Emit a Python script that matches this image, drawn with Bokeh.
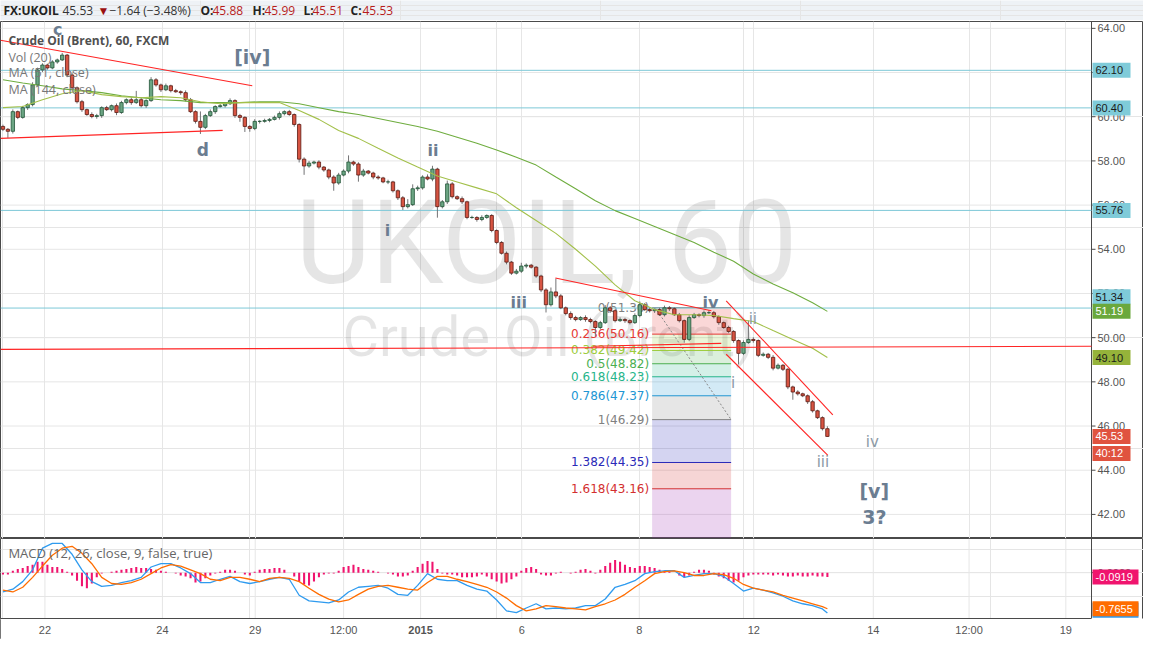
from bokeh.plotting import figure
from bokeh.layouts import column
from bokeh.models import ColumnDataSource, FixedTicker, Grid, Range1d
from bokeh.core.properties import value
from bokeh.embed import file_html
from bokeh.resources import INLINE

# ---------------- data (2-hour candles) ----------------
first_open = 59.56
closes = [
    59.43, 59.34, 60.23, 59.97, 60.41, 60.55, 61.44, 62.12, 62.34, 62.21,
    62.48, 62.57, 62.79, 61.89, 61.31, 60.68, 60.32, 60.10, 60.01, 60.05,
    60.41, 60.32, 60.50, 60.19, 60.64, 60.77, 60.64, 60.77, 60.50, 60.73,
    61.67, 61.44, 61.22, 61.40, 61.18, 61.13, 61.09, 60.77, 60.23, 59.79,
    59.52, 60.05, 60.23, 60.46, 60.50, 60.59, 60.73, 60.05, 59.97, 59.56,
    59.47, 59.79, 59.79, 59.83, 59.88, 59.97, 60.14, 60.23, 60.10, 59.65,
    58.08, 57.77, 57.90, 57.95, 57.72, 57.59, 57.27, 57.00, 57.36, 57.54,
    57.95, 57.86, 57.36, 57.54, 57.45, 57.27, 57.23, 57.05, 57.05, 56.65,
    56.33, 55.93, 56.02, 56.74, 56.78, 57.27, 57.18, 57.63, 55.93, 56.15,
    56.96, 56.38, 56.29, 56.15, 55.44, 55.44, 55.35, 55.44, 55.53, 54.85,
    54.31, 53.82, 53.42, 52.92, 53.01, 53.24, 53.28, 53.19, 52.79, 52.16,
    51.49, 52.07, 51.89, 51.35, 51.09, 50.91, 50.82, 50.91, 50.82, 50.73,
    50.46, 50.68, 51.35, 51.22, 50.77, 50.82, 50.77, 50.68, 51.00, 51.49,
    51.27, 51.22, 51.27, 51.04, 51.35, 51.31, 51.04, 50.77, 49.92, 50.91,
    51.04, 51.00, 51.13, 51.13, 50.95, 50.68, 50.46, 50.28, 49.87, 49.29,
    49.78, 49.92, 49.87, 49.20, 49.25, 49.11, 48.62, 48.75, 48.57, 47.77,
    47.54, 47.46, 47.37, 47.10, 46.69, 46.38, 45.88, 45.53,
]
# wick lengths beyond the body, in cents
up_wick = [
    8, 6, 10, 5, 8, 6, 12, 10, 8, 6,
    8, 6, 10, 5, 10, 6, 8, 5, 10, 8,
    6, 8, 5, 10, 8, 6, 10, 40, 8, 6,
    12, 8, 6, 10, 5, 8, 6, 10, 8, 6,
    45, 8, 10, 6, 8, 5, 10, 6, 8, 5,
    6, 10, 5, 8, 6, 8, 10, 6, 8, 5,
    5, 8, 10, 6, 8, 5, 6, 8, 10, 8,
    30, 6, 8, 10, 5, 6, 8, 5, 10, 5,
    6, 8, 25, 20, 10, 8, 12, 15, 6, 8,
    15, 8, 6, 10, 5, 8, 6, 10, 5, 6,
    5, 6, 8, 5, 10, 15, 8, 6, 5, 6,
    8, 20, 60, 8, 6, 10, 8, 6, 10, 8,
    6, 8, 12, 8, 6, 10, 8, 6, 10, 15,
    8, 10, 6, 8, 10, 8, 6, 8, 5, 10,
    8, 6, 10, 12, 8, 6, 5, 8, 6, 5,
    10, 85, 10, 5, 8, 6, 10, 8, 6, 5,
    6, 8, 5, 6, 8, 5, 6, 11,
]
dn_wick = [
    8, 30, 10, 8, 6, 10, 8, 6, 10, 8,
    6, 8, 5, 10, 6, 8, 10, 6, 8, 10,
    10, 6, 8, 12, 6, 8, 10, 6, 8, 10,
    6, 8, 10, 6, 8, 5, 10, 8, 6, 10,
    30, 8, 6, 10, 5, 8, 6, 10, 20, 25,
    15, 8, 10, 6, 8, 5, 10, 8, 6, 10,
    15, 40, 8, 6, 10, 8, 10, 35, 8, 6,
    10, 8, 30, 8, 6, 10, 8, 6, 10, 8,
    10, 15, 8, 6, 10, 8, 6, 10, 50, 8,
    10, 8, 6, 10, 8, 6, 10, 8, 6, 8,
    8, 6, 10, 8, 6, 8, 10, 6, 8, 10,
    35, 8, 10, 6, 8, 10, 8, 6, 10, 8,
    40, 8, 6, 10, 8, 6, 10, 8, 6, 8,
    6, 8, 10, 6, 8, 10, 6, 8, 15, 8,
    6, 8, 10, 6, 8, 10, 6, 8, 10, 50,
    8, 6, 10, 8, 6, 8, 10, 6, 8, 10,
    35, 8, 6, 10, 8, 6, 8, 2,
]

# moving averages, sampled every 4th candle plus the last one
ma_idx = list(range(0, 168, 4)) + [167]
ma144 = [61.67, 61.53, 61.40, 61.26, 61.18, 61.09, 60.95, 60.86, 60.77, 60.73,
         60.64, 60.64, 60.64, 60.68, 60.68, 60.59, 60.41, 60.23, 60.10, 59.92,
         59.74, 59.56, 59.34, 59.07, 58.80, 58.49, 58.17, 57.81, 57.27, 56.74,
         56.20, 55.75, 55.39, 55.03, 54.67, 54.31, 53.87, 53.46, 52.88, 52.43,
         52.03, 51.58, 51.19]
ma51 = [60.41, 60.46, 60.77, 61.04, 61.18, 61.00, 60.91, 60.86, 60.91, 60.86,
        60.68, 60.59, 60.64, 60.64, 60.64, 60.28, 59.88, 59.38, 59.02, 58.57,
        58.13, 57.72, 57.32, 57.05, 56.78, 56.51, 55.88, 55.30, 54.72, 54.00,
        53.24, 52.39, 51.67, 51.27, 51.04, 51.04, 51.00, 50.86, 50.73, 50.32,
        49.92, 49.52, 49.10]

# MACD (12, 26, 9): lines sampled every 2nd candle plus the last one
macd_idx = list(range(0, 168, 2)) + [167]
macd_line = [-0.41, -0.35, -0.19, 0.06, 0.52, 0.62, 0.62, 0.39, 0.06, -0.19,
             -0.29, -0.27, -0.21, -0.17, -0.10, 0.12, 0.19, 0.19, 0.10, -0.02,
             -0.21, -0.21, -0.14, -0.08, -0.19, -0.23, -0.19, -0.14, -0.10, -0.14,
             -0.48, -0.60, -0.62, -0.64, -0.58, -0.41, -0.31, -0.29, -0.27, -0.33,
             -0.46, -0.48, -0.27, -0.02, -0.14, -0.17, -0.17, -0.27, -0.35, -0.39,
             -0.58, -0.81, -0.85, -0.75, -0.66, -0.77, -0.75, -0.77, -0.75, -0.70,
             -0.70, -0.56, -0.31, -0.25, -0.17, -0.02, 0.02, 0.04, 0.04, -0.10,
             -0.06, -0.02, -0.02, -0.08, -0.23, -0.39, -0.33, -0.37, -0.43, -0.50,
             -0.60, -0.66, -0.70, -0.77, -0.857]
signal_line = [-0.37, -0.41, -0.31, -0.10, 0.14, 0.37, 0.52, 0.56, 0.41, 0.19,
               -0.10, -0.23, -0.25, -0.21, -0.14, -0.02, 0.10, 0.17, 0.14, 0.06,
               -0.02, -0.14, -0.17, -0.10, -0.10, -0.14, -0.19, -0.12, -0.10, -0.12,
               -0.19, -0.33, -0.46, -0.56, -0.62, -0.58, -0.46, -0.35, -0.29, -0.27,
               -0.31, -0.35, -0.37, -0.21, -0.08, -0.08, -0.14, -0.19, -0.25, -0.31,
               -0.41, -0.54, -0.70, -0.81, -0.77, -0.70, -0.72, -0.75, -0.77, -0.79,
               -0.72, -0.66, -0.58, -0.46, -0.31, -0.17, -0.02, 0.02, 0.04, 0.00,
               -0.06, -0.06, -0.02, -0.04, -0.12, -0.25, -0.33, -0.37, -0.41, -0.48,
               -0.54, -0.60, -0.66, -0.72, -0.7655]
hist = [
    -0.04, -0.04, 0.04, 0.08, 0.10, 0.14, 0.17, 0.23, 0.23, 0.17,
    0.12, 0.12, 0.08, 0.02, -0.06, -0.17, -0.29, -0.33, -0.23, -0.10,
    -0.02, 0.00, 0.02, 0.04, 0.06, 0.08, 0.10, 0.12, 0.10, 0.10,
    0.08, 0.06, 0.04, 0.02, 0.00, -0.02, -0.06, -0.08, -0.12, -0.21,
    -0.19, -0.12, -0.06, -0.02, 0.02, 0.06, 0.06, 0.04, 0.00, -0.04,
    -0.06, 0.02, 0.06, 0.08, 0.08, 0.10, 0.10, 0.06, 0.00, -0.08,
    -0.19, -0.25, -0.27, -0.19, -0.10, -0.04, -0.02, -0.02, 0.04, 0.12,
    0.14, 0.17, 0.12, 0.08, 0.06, 0.04, 0.02, 0.00, -0.02, -0.04,
    -0.08, -0.08, -0.06, 0.04, 0.12, 0.19, 0.25, 0.23, 0.08, -0.02,
    -0.04, -0.04, -0.06, -0.10, -0.10, -0.10, -0.08, -0.04, -0.08, -0.14,
    -0.19, -0.23, -0.21, -0.14, -0.08, 0.04, 0.10, 0.12, 0.08, -0.04,
    -0.06, -0.06, -0.02, 0.02, 0.00, -0.02, 0.02, 0.06, 0.08, 0.04,
    -0.02, 0.06, 0.14, 0.21, 0.27, 0.23, 0.17, 0.12, 0.10, 0.14,
    0.14, 0.12, 0.10, 0.06, 0.04, 0.02, 0.00, -0.06, -0.10, -0.06,
    0.02, 0.06, 0.06, 0.04, -0.04, -0.08, -0.12, -0.17, -0.21, -0.17,
    -0.10, -0.06, -0.04, -0.04, -0.04, -0.04, -0.06, -0.04, -0.06, -0.08,
    -0.08, -0.06, -0.08, -0.08, -0.06, -0.08, -0.08, -0.0919,
]

# time axis (bar positions where a labelled date starts)
tick_pos = [8.5, 32.3, 51.1, 69.0, 84.6, 105.1, 128.9, 152.1, 176.3, 195.7, 215.3]
tick_labels = ["22", "24", "29", "12:00", "2015", "6", "8", "12", "14", "12:00", "19"]
tick_bold = ["normal", "normal", "normal", "normal", "bold", "normal",
             "normal", "normal", "normal", "normal", "normal"]
price_ticks = [42, 44, 46, 48, 50, 52, 54, 56, 58, 60, 62, 64]
macd_ticks = [0.0]

# horizontal levels
hlevels = [62.10, 60.40, 55.76, 51.34]

# price-scale tags: (position, text, background, text colour); an empty text is a hidden tag
price_tags = [(62.10, "62.10", "#7fcbd9", "#1a1a1a"), (60.40, "60.40", "#7fcbd9", "#1a1a1a"),
              (55.76, "55.76", "#7fcbd9", "#1a1a1a"), (51.85, "51.34", "#7fcbd9", "#1a1a1a"),
              (51.19, "51.19", "#6aa83c", "#ffffff"), (49.10, "49.10", "#95b33a", "#1a1a1a"),
              (45.53, "45.53", "#e0533f", "#ffffff"), (44.76, "40:12", "#e0533f", "#ffffff")]
macd_tags = [(-0.80, "", "#2f9bef", "#ffffff"), (-0.0919, "-0.0919", "#f0146e", "#ffffff"),
             (-0.7655, "-0.7655", "#ff6d00", "#ffffff")]

# fibonacci retracement
fib_levels = ["0", "0.236", "0.382", "0.5", "0.618", "0.786", "1", "1.382", "1.618", "2.618"]
fib_prices = [51.36, 50.16, 49.42, 48.82, 48.23, 47.37, 46.29, 44.35, 43.16, 38.09]
fib_colors = ["#808080", "#e53935", "#9ccc3c", "#4caf50", "#26b58a", "#2196d3",
              "#808080", "#2a2ab8", "#d32f2f", "#9c27b0"]
fib_x0, fib_x1 = 131.5, 147.5

# drawn trend lines (bar index, price)
trend_x0 = [-0.5, -0.5, 111.9, 119.5, 146.5, 146.5, -0.5]
trend_y0 = [63.46, 59.02, 52.70, 49.61, 51.67, 49.25, 49.47]
trend_x1 = [50.5, 44.5, 143.5, 145.5, 168.1, 167.1, 220.5]
trend_y1 = [61.40, 59.38, 51.22, 49.74, 46.51, 44.67, 49.61]

# Elliott wave labels
wave_main = [("[iv]", 50.5, 62.70, "19px"), ("c", 11.1, 63.95, "16px"),
             ("d", 40.5, 58.48, "17px"), ("i", 77.9, 54.85, "16px"),
             ("ii", 87.1, 58.48, "16px"), ("iii", 104.5, 51.58, "16px"),
             ("iv", 143.3, 51.58, "16px"), ("[v]", 176.5, 43.06, "19px"),
             ("3?", 176.5, 41.89, "19px")]
wave_sub = [("i", 147.9, 47.95), ("ii", 151.9, 50.86), ("iii", 166.1, 44.36), ("iv", 176.1, 45.30)]

# ---------------- build ----------------
n = len(closes)
idx = list(range(n))
opens = [first_open] + closes[:-1]
highs = [max(o, c) + u / 100 for o, c, u in zip(opens, closes, up_wick)]
lows = [min(o, c) - d / 100 for o, c, d in zip(opens, closes, dn_wick)]
is_up = [c >= o for o, c in zip(opens, closes)]
src = ColumnDataSource(dict(
    x=idx, o=opens, c=closes, h=highs, l=lows,
    fill=["#6ba583" if u else "#d75442" for u in is_up],
    edge=["#225437" if u else "#5b1a13" for u in is_up],
))

W = 1143
DATA_W = 1091                    # pixels of the time area, the rest is the price scale
X0, X1 = -0.5, 220.5             # time area in bar units
PPX = DATA_W / (X1 - X0)         # pixels per bar
XE = X1 + (W - DATA_W) / PPX     # right edge of the price scale
Y0, Y1 = 40.91, 64.31
GRID = "#e6e6e6"
AXC = "#4a4a4a"
AX_FONT = "Liberation Sans"

# header strip
hdr = figure(frame_width=W, frame_height=20, x_range=Range1d(0, W), y_range=Range1d(0, 20),
             toolbar_location=None, output_backend="svg", min_border=0,
             x_axis_location=None, y_axis_location=None)
hdr.outline_line_color = None
hdr.background_fill_color = "#eef2f6"
hdr.border_fill_color = "#eef2f6"
hdr_parts = [(3, "FX:UKOIL", "#222222", "bold"), (62, "45.53", "#333333", "normal"),
             (97, "▼", "#9b1010", "normal"), (109, "−1.64 (−3.48%)", "#333333", "normal"),
             (200, "O:", "#222222", "bold"), (212, "45.88", "#b71c1c", "normal"),
             (252, "H:", "#222222", "bold"), (264, "45.99", "#b71c1c", "normal"),
             (303, "L:", "#222222", "bold"), (312, "45.51", "#b71c1c", "normal"),
             (350, "C:", "#222222", "bold"), (362, "45.53", "#b71c1c", "normal")]
for hx, ht, hc, hs in hdr_parts:
    hdr.text(x=[hx], y=[10], text=[ht], text_color=hc, text_font=value("Open Sans"),
             text_font_style=hs, text_font_size="12px", text_baseline="middle", text_align="left")


def price_scale(fig, ticks, fmt, lo, hi):
    """Right-hand price scale drawn inside the frame, so that the value tags can cover it."""
    k = len(ticks)
    fig.segment(x0=[X0] * k, x1=[X1] * k, y0=ticks, y1=ticks, line_color=GRID, line_width=1)
    fig.segment(x0=[X1], x1=[X1], y0=[lo], y1=[hi], line_color=AXC, line_width=1)
    fig.segment(x0=[X1] * k, x1=[X1 + 4 / PPX] * k, y0=ticks, y1=ticks, line_color=AXC, line_width=1)
    fig.text(x=[X1 + 6 / PPX] * k, y=ticks, text=[fmt.format(t) for t in ticks],
             text_font=value(AX_FONT), text_font_size="11px", text_color="#555555",
             text_align="left", text_baseline="middle")


def draw_tags(fig, tags, tag_w):
    for ty, tt, bg, fg in tags:
        fig.rect(x=[X1 + (tag_w / 2 + 1) / PPX], y=[ty], width=tag_w, height=15,
                 width_units="screen", height_units="screen", fill_color=bg, line_color=None)
        if tt:
            fig.text(x=[X1 + 4 / PPX], y=[ty], text=[tt], text_color=fg, text_font=value(AX_FONT),
                     text_font_size="11px", text_align="left", text_baseline="middle")


# main price pane
p = figure(frame_width=W, frame_height=517, x_range=Range1d(X0, XE), y_range=Range1d(Y0, Y1),
           toolbar_location=None, output_backend="svg", x_axis_location=None, y_axis_location=None,
           min_border=0, min_border_top=1)
p.outline_line_color = AXC
p.background_fill_color = "white"
p.border_fill_color = "white"
p.add_layout(Grid(dimension=0, ticker=FixedTicker(ticks=tick_pos), grid_line_color=GRID))
price_scale(p, price_ticks, "{:.2f}", Y0, Y1)

# watermark
p.text(x=[110.1], y=[54.27], text=["UKOIL, 60"], text_font=value("Roboto"), text_font_size="116px",
       text_color="#000000", text_alpha=0.1, text_align="center", text_baseline="middle")
p.text(x=[110.5], y=[50.05], text=["Crude Oil (Brent)"], text_font=value("Roboto"), text_font_size="56px",
       text_color="#000000", text_alpha=0.1, text_align="center", text_baseline="middle")

# fib bands, lines and labels
p.quad(left=[fib_x0] * 9, right=[fib_x1] * 9, top=fib_prices[:-1], bottom=fib_prices[1:],
       fill_color=fib_colors[1:], fill_alpha=0.2, line_color=None)
p.segment(x0=[fib_x0] * 9, x1=[fib_x1] * 9, y0=fib_prices[:-1], y1=fib_prices[:-1],
          line_color=fib_colors[:-1], line_width=1)
p.text(x=[fib_x0] * 9, y=fib_prices[:-1],
       text=[f"{l}({v:.2f})" for l, v in zip(fib_levels[:-1], fib_prices[:-1])],
       text_color=fib_colors[:-1], text_font=value("DejaVu Sans"), text_font_size="12px",
       text_align="right", text_baseline="middle", x_offset=-3)
p.segment(x0=[fib_x0 + 0.6], y0=[fib_prices[0]], x1=[fib_x1], y1=[fib_prices[6]],
          line_color="#888888", line_dash="2 2", line_width=1)

# horizontal levels
p.segment(x0=[X0] * len(hlevels), x1=[X1] * len(hlevels), y0=hlevels, y1=hlevels,
          line_color="#7dc8d7", line_width=1)

# candles
p.segment(x0="x", y0="h", x1="x", y1="l", source=src, line_color="#737375", line_width=1)
p.vbar(x="x", width=0.68, top="o", bottom="c", source=src, fill_color="fill", line_color="edge", line_width=0.8)

# moving averages
p.line(ma_idx, ma144, line_color="#6fad3f", line_width=1.1)
p.line(ma_idx, ma51, line_color="#a3c04a", line_width=1.1)

# trend lines
p.segment(x0=trend_x0, y0=trend_y0, x1=trend_x1, y1=trend_y1, line_color="#ff2424", line_width=1.1)

# wave labels
for t, wx, wy, fs in wave_main:
    p.text(x=[wx], y=[wy], text=[t], text_font=value("DejaVu Sans"), text_font_style="bold",
           text_font_size=fs, text_color="#6b7d91", text_align="center", text_baseline="middle")
for t, wx, wy in wave_sub:
    p.text(x=[wx], y=[wy], text=[t], text_font=value("DejaVu Sans"), text_font_size="15px",
           text_color="#8d9aa6", text_align="center", text_baseline="middle")

# legend texts
p.text(x=[1.1], y=[63.46], text=["Crude Oil (Brent), 60, FXCM"], text_font=value("Open Sans"),
       text_font_style="bold", text_font_size="12px", text_color="#505050", text_baseline="middle")
p.text(x=[1.1, 1.1, 1.1], y=[62.70, 61.98, 61.22], text=["Vol (20)", "MA (51, close)", "MA (144, close)"],
       text_font=value("Open Sans"), text_font_size="12.5px", text_color="#777777", text_baseline="middle")

draw_tags(p, price_tags, 38)

# MACD pane, with the time-label strip inside the same frame
M0, M1 = -0.973, 0.725
PPY = 80 / (M1 - M0)             # pixels per MACD unit
MB = M0 - 21 / PPY               # bottom of the time-label strip
m = figure(frame_width=W, frame_height=101, x_range=p.x_range, y_range=Range1d(MB, M1),
           toolbar_location=None, output_backend="svg", x_axis_location=None, y_axis_location=None,
           min_border=0)
m.outline_line_color = AXC
m.border_fill_color = "white"
k = len(tick_pos)
m.segment(x0=tick_pos, x1=tick_pos, y0=[M0] * k, y1=[M1] * k, line_color=GRID, line_width=1)
price_scale(m, macd_ticks, "{:.4f}", M0, M1)

m.vbar(x=idx, top=hist, bottom=0, width=0.42, fill_color="#f0146e", line_color=None)
m.line(macd_idx, macd_line, line_color="#2f9bef", line_width=1.3)
m.line(macd_idx, signal_line, line_color="#ff6d00", line_width=1.3)
m.text(x=[1.1], y=[0.414], text=["MACD (12, 26, close, 9, false, true)"], text_font=value("Open Sans"),
       text_font_size="13px", text_color="#666666", text_baseline="middle")
draw_tags(m, macd_tags, 46)

# time-label strip below the MACD pane
m.rect(x=[(X0 + XE) / 2], y=[(MB + M0) / 2], width=W, height=21, width_units="screen",
       height_units="screen", fill_color="white", line_color=None)
m.segment(x0=[X0], x1=[X1], y0=[M0], y1=[M0], line_color=AXC, line_width=1)
for tp, tl, tb in zip(tick_pos, tick_labels, tick_bold):
    m.text(x=[tp], y=[M0 - 11 / PPY], text=[tl], text_font=value(AX_FONT), text_font_size="11px",
           text_font_style=tb, text_color="#555555", text_align="center", text_baseline="middle")

layout = column(hdr, p, m, spacing=0)
open("out.html", "w").write(file_html(layout, INLINE))
